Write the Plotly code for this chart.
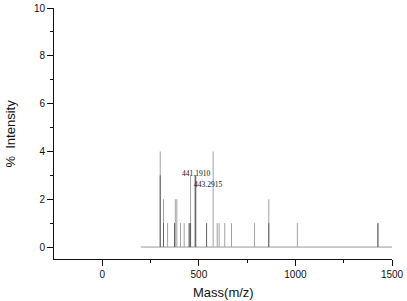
import plotly.graph_objects as go

# Data
light_mz = [300, 317, 338, 378, 386, 405, 424, 450, 457, 480, 485, 574, 595, 605, 634, 669, 788, 862, 1010, 1427]
light_int = [4, 2, 1, 2, 2, 1, 1, 1, 3, 3, 3, 4, 1, 1, 1, 1, 1, 2, 1, 1]
dark_mz = [300, 317, 374, 450, 457, 482, 540, 862, 1427]
dark_int = [3, 1, 1, 1, 1, 3, 1, 1, 1]
baseline_x = [200, 1500]
baseline_y = [0, 0]
label_texts = ["441.1910", "443.2915"]
label_x = [485, 545]
label_y = [3.07, 2.62]


def sticks(mz, inten):
    xs, ys = [], []
    for m, h in zip(mz, inten):
        xs += [m, m, None]
        ys += [0, h, None]
    return xs, ys


fig = go.Figure()
fig.add_trace(go.Scatter(x=baseline_x, y=baseline_y, mode="lines",
                         line=dict(color="#9a9a9a", width=1), hoverinfo="skip"))
lx, ly = sticks(light_mz, light_int)
fig.add_trace(go.Scatter(x=lx, y=ly, mode="lines",
                         line=dict(color="#a2a2a2", width=1)))
dx, dy = sticks(dark_mz, dark_int)
fig.add_trace(go.Scatter(x=dx, y=dy, mode="lines",
                         line=dict(color="#606060", width=1)))

for t, x, y in zip(label_texts, label_x, label_y):
    fig.add_annotation(x=x, y=y, text=t, showarrow=False,
                       font=dict(family="Liberation Serif", size=7.5, color="#111"))

fig.add_annotation(text="Mass(m/z)", xref="paper", yref="paper", x=0.5, y=-0.135,
                   xanchor="center", yanchor="middle", showarrow=False,
                   font=dict(family="Liberation Sans", size=13, color="#111"))
fig.add_annotation(text="%  Intensity", xref="paper", yref="paper", x=-0.13, y=0.5,
                   xanchor="center", yanchor="middle", textangle=-90, showarrow=False,
                   font=dict(family="Liberation Sans", size=13, color="#111"))

fig.update_layout(
    width=407, height=301,
    margin=dict(l=54, r=15, t=8, b=42, autoexpand=False),
    paper_bgcolor="white", plot_bgcolor="white",
    showlegend=False,
    font=dict(family="Liberation Sans", color="#111"),
)
fig.update_xaxes(
    range=[-250, 1500], showgrid=False, zeroline=False, automargin=False,
    showline=True, linecolor="#111", linewidth=1,
    ticks="outside", ticklen=6, tickwidth=1, tickcolor="#111",
    tickvals=[0, 500, 1000, 1500], tickfont=dict(size=10),
    minor=dict(tickvals=[250, 750, 1250], ticks="outside", ticklen=3, tickcolor="#111"),
)
fig.update_yaxes(
    range=[-0.5, 10], showgrid=False, zeroline=False, automargin=False,
    showline=True, linecolor="#111", linewidth=1,
    ticks="outside", ticklen=6, tickwidth=1, tickcolor="#111",
    tickvals=[0, 2, 4, 6, 8, 10], tickfont=dict(size=10),
    minor=dict(tickvals=[1, 3, 5, 7, 9], ticks="outside", ticklen=3, tickcolor="#111"),
)

fig.write_html("out.html", config={"displayModeBar": False},
               post_script="document.body.style.margin='0';document.body.style.overflow='hidden';")
